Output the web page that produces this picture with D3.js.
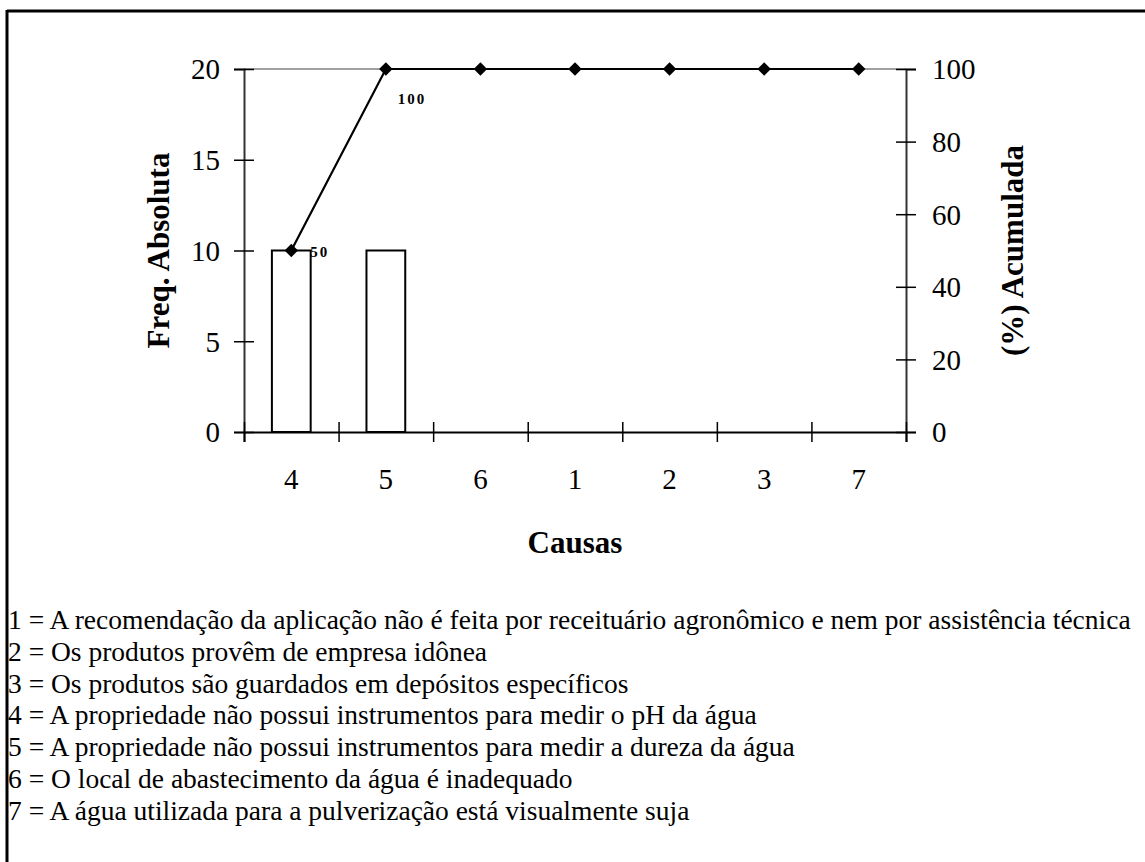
<!DOCTYPE html>
<html><head><meta charset="utf-8">
<script src="https://cdn.jsdelivr.net/npm/d3@7"></script>
<style>
html,body{margin:0;padding:0;background:#fff;}
svg{display:block;}
text{font-family:"Liberation Serif","Times New Roman",serif;fill:#000;}
</style></head>
<body>
<svg id="chart" width="1145" height="862"></svg>
<script>
const categories = ["4","5","6","1","2","3","7"];
const freqValues = [10,10,0,0,0,0,0];
const cumulativePct = [50,100,100,100,100,100,100];
const pointLabels = ["50","100",null,null,null,null,null];
const leftTicks = [0,5,10,15,20];
const rightTicks = [0,20,40,60,80,100];
const leftTitle = "Freq. Absoluta";
const rightTitle = "(%) Acumulada";
const xTitle = "Causas";
const legendLines = [
  "1 = A recomendação da aplicação não é feita por receituário agronômico e nem por assistência técnica",
  "2 = Os produtos provêm de empresa idônea",
  "3 = Os produtos são guardados em depósitos específicos",
  "4 = A propriedade não possui instrumentos para medir o pH da água",
  "5 = A propriedade não possui instrumentos para medir a dureza da água",
  "6 = O local de abastecimento da água é inadequado",
  "7 = A água utilizada para a pulverização está visualmente suja"
];

const svg = d3.select("#chart");
const L = 244, R = 906, T = 69, B = 432;

// outer frame (top and left)
svg.append("line").attr("x1",7).attr("x2",1145).attr("y1",11).attr("y2",11).attr("stroke","#000").attr("stroke-width",3);
svg.append("line").attr("x1",7).attr("x2",7).attr("y1",10).attr("y2",862).attr("stroke","#000").attr("stroke-width",3);

const x = d3.scaleBand().domain(categories).range([L,R]).paddingInner(0.59).paddingOuter(0.295);
const xEdge = d3.scaleLinear().domain([0,categories.length]).range([L,R]);
const yL = d3.scaleLinear().domain([0,20]).range([B,T]);
const yR = d3.scaleLinear().domain([0,100]).range([B,T]);

// top gray frame line
svg.append("line").attr("x1",L).attr("x2",R).attr("y1",yL(20)).attr("y2",yL(20)).attr("stroke","#a0a0a0").attr("stroke-width",2);

// bars
svg.append("g").selectAll("rect").data(categories).join("rect")
  .attr("x",d=>x(d)).attr("width",x.bandwidth())
  .attr("y",(d,i)=>yL(freqValues[i])).attr("height",(d,i)=>yL(0)-yL(freqValues[i]))
  .attr("fill","#fff").attr("stroke","#000").attr("stroke-width",2);

// left axis
const gl = svg.append("g").attr("transform",`translate(${L},0)`)
  .call(d3.axisLeft(yL).tickValues(leftTicks).tickSize(10).tickPadding(14).tickFormat(d3.format("d")));
gl.select(".domain").attr("stroke","#333").attr("stroke-width",2);
gl.selectAll(".tick line").attr("x1",10).attr("x2",-10).attr("stroke","#000").attr("stroke-width",1.5);
gl.selectAll("text").style("font-size","29px").attr("font-family","Liberation Serif").attr("dy","0.34em");

// right axis
const gr = svg.append("g").attr("transform",`translate(${R},0)`)
  .call(d3.axisRight(yR).tickValues(rightTicks).tickSize(10).tickPadding(16).tickFormat(d3.format("d")));
gr.select(".domain").attr("stroke","#333").attr("stroke-width",2);
gr.selectAll(".tick line").attr("x1",-10).attr("x2",10).attr("stroke","#000").attr("stroke-width",1.5);
gr.selectAll("text").style("font-size","29px").attr("font-family","Liberation Serif").attr("dy","0.34em");

// bottom axis (edge ticks)
const gb = svg.append("g").attr("transform",`translate(0,${B})`)
  .call(d3.axisBottom(xEdge).ticks(categories.length).tickSize(10).tickFormat(""));
gb.select(".domain").attr("stroke","#000").attr("stroke-width",2);
gb.selectAll(".tick line").attr("y1",-10).attr("y2",10).attr("stroke","#000").attr("stroke-width",1.5);

// category labels
const gc = svg.append("g").attr("transform",`translate(0,${B})`)
  .call(d3.axisBottom(x).tickSize(0).tickPadding(36));
gc.select(".domain").remove();
gc.selectAll("text").style("font-size","29px").attr("font-family","Liberation Serif");

// cumulative line
const cx = d=>x(d)+x.bandwidth()/2;
const line = d3.line().x((d,i)=>cx(categories[i])).y(d=>yR(d));
svg.append("path").datum(cumulativePct).attr("d",line).attr("fill","none").attr("stroke","#000").attr("stroke-width",2.2);
svg.append("g").selectAll("path").data(cumulativePct).join("path")
  .attr("d",d3.symbol().type(d3.symbolDiamond2).size(115))
  .attr("transform",(d,i)=>`translate(${cx(categories[i])},${yR(d)})`)
  .attr("fill","#000");

// data labels
const offsets = [[19,6],[12,35]];
svg.append("g").selectAll("text").data(pointLabels.map((t,i)=>({t,i})).filter(d=>d.t))
  .join("text")
  .attr("x",d=>cx(categories[d.i])+offsets[d.i][0])
  .attr("y",d=>yR(cumulativePct[d.i])+offsets[d.i][1])
  .style("font-size","15px").style("font-weight","bold").style("letter-spacing","2px")
  .text(d=>d.t);

// axis titles
svg.append("text").attr("transform",`translate(169,${(T+B)/2}) rotate(-90)`)
  .attr("text-anchor","middle").style("font-size","31px").style("font-weight","bold").text(leftTitle);
svg.append("text").attr("transform",`translate(1023,${(T+B)/2}) rotate(-90)`)
  .attr("text-anchor","middle").style("font-size","31px").style("font-weight","bold").text(rightTitle);
svg.append("text").attr("x",(L+R)/2).attr("y",553)
  .attr("text-anchor","middle").style("font-size","31px").style("font-weight","bold").text(xTitle);

// legend
svg.append("g").selectAll("text").data(legendLines).join("text")
  .attr("x",8).attr("y",(d,i)=>629+i*31.8)
  .style("font-size","27.5px").text(d=>d);
</script>
</body></html>
